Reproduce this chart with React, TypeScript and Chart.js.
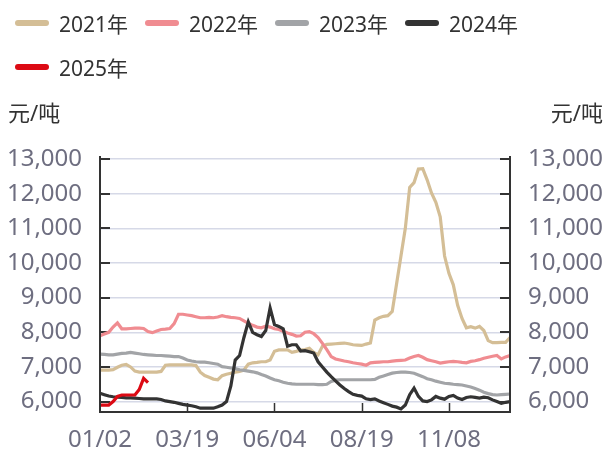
import React, { useEffect, useRef } from "react";
import { Chart, registerables } from "chart.js";

Chart.register(...registerables);

// ---------- data ----------
const seriesNames = ["2021年", "2022年", "2023年", "2024年", "2025年"];
const seriesColors = ["#d4be96", "#f08c91", "#a2a4a7", "#333333", "#dc0a14"];

const xTickLabels = ["01/02", "03/19", "06/04", "08/19", "11/08"];
const labelEvery = 20;
const pointCount = 95;
const categories = Array.from({ length: pointCount }, (_, i) => `d${i}`);

const yTickValues = [6000, 7000, 8000, 9000, 10000, 11000, 12000, 13000];

const y2021 = [
  6910, 6910, 6910, 6920, 6990, 7050, 7070, 7000, 6880, 6850,
  6850, 6850, 6850, 6850, 6870, 7050, 7060, 7060, 7060, 7060,
  7060, 7060, 7040, 6850, 6750, 6700, 6650, 6630, 6750, 6790,
  6820, 6850, 6870, 6910, 7080, 7120, 7130, 7150, 7150, 7200,
  7450, 7490, 7490, 7490, 7420, 7450, 7490, 7500, 7540, 7420,
  7350, 7600, 7650, 7660, 7670, 7680, 7690, 7670, 7640, 7630,
  7620, 7660, 7690, 8350, 8420, 8460, 8480, 8600, 9400, 10200,
  11000, 12180, 12320, 12710, 12720, 12400, 12020, 11750, 11330, 10200,
  9700, 9370, 8780, 8400, 8130, 8160, 8120, 8170, 8050, 7760,
  7700, 7700, 7710, 7710, 7850,
];
const y2022 = [
  7900, 7950, 8000, 8150, 8270, 8100, 8100, 8110, 8120, 8120,
  8110, 8020, 7990, 8040, 8080, 8090, 8110, 8250, 8520, 8520,
  8500, 8480, 8450, 8420, 8420, 8430, 8420, 8440, 8480, 8450,
  8430, 8420, 8400, 8330, 8260, 8200, 8150, 8130, 8180, 8150,
  8100, 8080, 8030, 7980, 7940, 7890, 7900, 8000, 8020, 7960,
  7850, 7680, 7500, 7300, 7230, 7200, 7170, 7150, 7120, 7100,
  7080, 7050, 7120, 7130, 7140, 7150, 7150, 7170, 7180, 7190,
  7200, 7260, 7300, 7330, 7280, 7210, 7180, 7150, 7110, 7130,
  7150, 7160, 7150, 7130, 7120, 7160, 7180, 7210, 7250, 7280,
  7310, 7330, 7230, 7290, 7330,
];
const y2023 = [
  7370, 7360, 7350, 7350, 7370, 7390, 7400, 7420, 7400, 7380,
  7360, 7350, 7340, 7330, 7330, 7320, 7310, 7300, 7300, 7260,
  7200, 7170, 7150, 7140, 7140, 7120, 7100, 7080, 7010, 6990,
  6970, 6950, 6920, 6900, 6880, 6860, 6830, 6780, 6740, 6680,
  6630, 6600, 6560, 6530, 6510, 6500, 6500, 6500, 6500, 6500,
  6490, 6490, 6500, 6580, 6620, 6630, 6630, 6630, 6630, 6630,
  6630, 6630, 6630, 6640, 6700, 6740, 6780, 6820, 6840, 6850,
  6850, 6840, 6820, 6770, 6720, 6660, 6630, 6590, 6560, 6530,
  6520, 6500, 6490, 6480, 6450, 6420, 6380, 6330, 6270, 6230,
  6200, 6190, 6200, 6210, 6220,
];
const y2024 = [
  6240, 6200, 6160, 6140, 6130, 6120, 6110, 6110, 6100, 6090,
  6080, 6080, 6080, 6080, 6060, 6020, 6000, 5980, 5950, 5920,
  5900, 5880, 5850, 5810, 5810, 5810, 5810, 5850, 5900, 6000,
  6450, 7200, 7330, 7850, 8300, 8000, 7930, 7880, 8050, 8700,
  8220, 8170, 8100, 7600, 7640, 7640, 7460, 7470, 7440, 7400,
  7150, 7000, 6850, 6720, 6600, 6480, 6380, 6290, 6210, 6180,
  6160, 6080, 6060, 6080, 6020, 5970, 5920, 5870, 5840, 5790,
  5900, 6200, 6390, 6150, 6020, 6000, 6050, 6150, 6100, 6070,
  6150, 6180, 6100, 6060, 6120, 6140, 6120, 6100, 6130, 6110,
  6050, 6000, 5950, 5980, 6000,
];
const y2025 = [5900, 5900, 5900, 6000, 6150, 6190, 6190, 6190, 6190, 6350, 6670, 6550];

const seriesValues = [y2021, y2022, y2023, y2024, y2025];

const yMin = 5700;
const yMax = 13000;
const unitLabel = "元/吨";

// ---------- styles ----------
const FONT = '"Noto Sans", "Noto Sans CJK SC", sans-serif';
const TICK_COLOR = "#6e6e80";
const TEXT_COLOR = "#333333";
const AXIS_COLOR = "#333333";
const GRID_COLOR = "#d6d9e7";

const fmt = (v: number) => v.toLocaleString("en-US");

const decorPlugin = {
  id: "decor",
  beforeDatasetsDraw(chart: any) {
    const { ctx, chartArea, scales } = chart;
    const { left, right, bottom } = chartArea;
    ctx.save();
    ctx.strokeStyle = AXIS_COLOR;
    ctx.lineWidth = 2;
    const ys = scales.y;
    yTickValues.forEach((v) => {
      const py = Math.round(ys.getPixelForValue(v));
      ctx.beginPath();
      ctx.moveTo(left, py);
      ctx.lineTo(left + 10, py);
      ctx.moveTo(right, py);
      ctx.lineTo(right - 10, py);
      ctx.stroke();
    });
    const xs = scales.x;
    ctx.lineWidth = 1.5;
    for (let i = labelEvery; i < pointCount; i += labelEvery) {
      const px = Math.round(xs.getPixelForValue(i)) + 0.5;
      ctx.beginPath();
      ctx.moveTo(px, bottom);
      ctx.lineTo(px, bottom - 9);
      ctx.stroke();
    }
    ctx.restore();
  },
  afterDraw(chart: any) {
    const { ctx, chartArea } = chart;
    const { left, right, top, bottom } = chartArea;
    ctx.save();
    ctx.strokeStyle = AXIS_COLOR;
    ctx.lineWidth = 2;
    ctx.beginPath();
    ctx.moveTo(left, top - 3);
    ctx.lineTo(left, bottom);
    ctx.lineTo(right, bottom);
    ctx.lineTo(right, top - 3);
    ctx.stroke();
    ctx.fillStyle = TEXT_COLOR;
    ctx.font = `22px ${FONT}`;
    ctx.textBaseline = "middle";
    ctx.textAlign = "left";
    ctx.fillText(unitLabel, 8, 115);
    ctx.textAlign = "right";
    ctx.fillText(unitLabel, 603, 115);
    ctx.restore();
  },
};

const setYTicks = (s: any) => {
  s.ticks = yTickValues.map((v) => ({ value: v }));
};

export default function App() {
  const canvasRef = useRef<HTMLCanvasElement | null>(null);

  useEffect(() => {
    if (!canvasRef.current) return;
    const order = [4, 3, 2, 1, 0];
    const yTicks = {
      padding: 18,
      color: TICK_COLOR,
      font: { family: FONT, size: 24 },
      callback: (v: any) => fmt(Number(v)),
    };
    const chart = new Chart(canvasRef.current, {
      type: "line",
      data: {
        labels: categories,
        datasets: seriesNames.map((name, k) => ({
          label: name,
          data: seriesValues[k],
          borderColor: seriesColors[k],
          backgroundColor: seriesColors[k],
          borderWidth: 3.2,
          pointRadius: 0,
          tension: 0,
          order: order[k],
          yAxisID: "y",
        })),
      },
      options: {
        animation: false,
        responsive: false,
        devicePixelRatio: 1,
        layout: { padding: { top: 159, left: 0, right: 0, bottom: 0 } },
        plugins: {
          legend: { display: false },
          tooltip: { enabled: false },
        },
        scales: {
          x: {
            type: "category",
            offset: false,
            grid: { display: false, drawTicks: false },
            border: { display: false },
            afterFit: (s: any) => {
              s.height = 43;
            },
            ticks: {
              autoSkip: false,
              maxRotation: 0,
              minRotation: 0,
              padding: 14,
              color: TICK_COLOR,
              font: { family: FONT, size: 24 },
              callback: (_v: any, i: number) =>
                i % labelEvery === 0 && xTickLabels[i / labelEvery] ? xTickLabels[i / labelEvery] : "",
            },
          },
          y: {
            position: "left",
            min: yMin,
            max: yMax,
            afterBuildTicks: setYTicks,
            afterFit: (s: any) => {
              s.width = 100;
            },
            grid: { color: GRID_COLOR, lineWidth: 1.5, drawTicks: false },
            border: { display: false },
            ticks: yTicks,
          },
          y1: {
            position: "right",
            min: yMin,
            max: yMax,
            afterBuildTicks: setYTicks,
            afterFit: (s: any) => {
              s.width = 94;
            },
            grid: { drawOnChartArea: false, drawTicks: false },
            border: { display: false },
            ticks: yTicks,
          },
        },
      },
      plugins: [decorPlugin],
    } as any);
    return () => chart.destroy();
  }, []);

  return (
    <div style={{ position: "absolute", left: 0, top: 0, width: 604, height: 455, background: "#fff" }}>
      <canvas ref={canvasRef} width={604} height={455} style={{ position: "absolute", left: 0, top: 0 }} />
      <div
        style={{
          position: "absolute",
          left: 15,
          top: 1,
          width: 589,
          display: "flex",
          flexWrap: "wrap",
          fontFamily: FONT,
          fontSize: 21,
          color: TEXT_COLOR,
        }}
      >
        {seriesNames.map((name, k) => (
          <div key={name} style={{ width: 130, height: 44, display: "flex", alignItems: "center" }}>
            <span
              style={{
                display: "inline-block",
                width: 34,
                height: 6,
                borderRadius: 3,
                background: seriesColors[k],
                marginRight: 10,
              }}
            />
            <span style={{ whiteSpace: "nowrap" }}>{name}</span>
          </div>
        ))}
      </div>
    </div>
  );
}
